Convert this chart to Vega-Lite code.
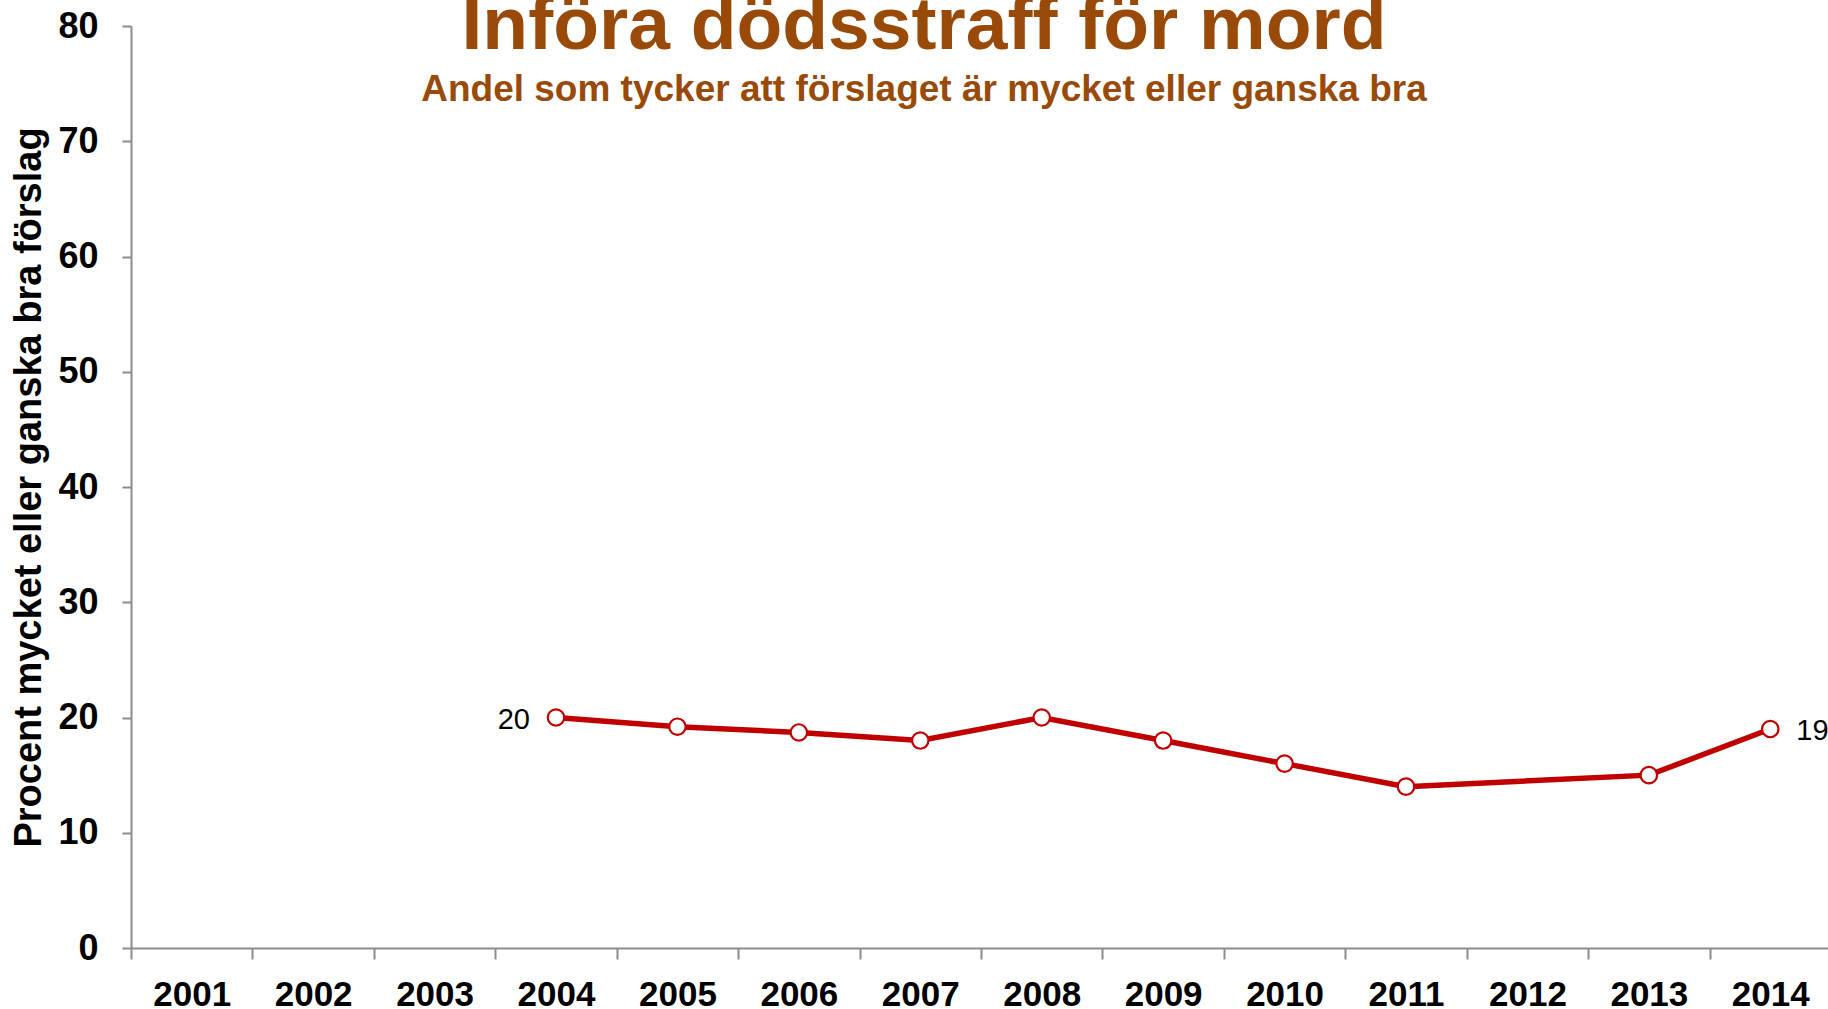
{
  "$schema": "https://vega.github.io/schema/vega-lite/v6.json",
  "width": 1700,
  "height": 922,
  "autosize": "none",
  "padding": {"left": 131, "top": 26, "right": 0, "bottom": 61},
  "background": "white",
  "view": {"stroke": null},
  "title": {
    "text": "Införa dödsstraff för mord",
    "subtitle": "Andel som tycker att förslaget är mycket eller ganska bra",
    "anchor": "middle",
    "orient": "top",
    "offset": 0,
    "dx": -57,
    "dy": 101,
    "font": "Liberation Sans",
    "fontWeight": "bold",
    "fontSize": 75,
    "color": "#9A4A08",
    "subtitleFont": "Liberation Sans",
    "subtitleFontWeight": "bold",
    "subtitleFontSize": 37,
    "subtitleColor": "#9A4A08",
    "subtitlePadding": 7
  },
  "data": {
    "values": [
      {"year": "2004", "value": 20, "label": "20"},
      {"year": "2005", "value": 19.2},
      {"year": "2006", "value": 18.7},
      {"year": "2007", "value": 18},
      {"year": "2008", "value": 20},
      {"year": "2009", "value": 18},
      {"year": "2010", "value": 16},
      {"year": "2011", "value": 14},
      {"year": "2013", "value": 15},
      {"year": "2014", "value": 19, "label": "19"}
    ]
  },
  "encoding": {
    "x": {
      "field": "year",
      "type": "ordinal",
      "bandPosition": 0.5,
      "scale": {
        "type": "band",
        "domain": ["2001","2002","2003","2004","2005","2006","2007","2008","2009","2010","2011","2012","2013","2014"],
        "paddingInner": 0,
        "paddingOuter": 0
      },
      "axis": {
        "title": null,
        "labelAngle": 0,
        "tickBand": "extent",
        "domainColor": "#8C8C8C",
        "domainWidth": 2,
        "tickColor": "#8C8C8C",
        "tickWidth": 2,
        "tickSize": 11,
        "labelFont": "Liberation Sans",
        "labelFontWeight": "bold",
        "labelFontSize": 35,
        "labelColor": "black",
        "labelPadding": 18,
        "labelBaseline": "top"
      }
    },
    "y": {
      "field": "value",
      "type": "quantitative",
      "scale": {"domain": [0, 80], "nice": false, "zero": true},
      "axis": {
        "title": "Procent mycket eller ganska bra förslag",
        "titleFont": "Liberation Sans",
        "titleFontWeight": "bold",
        "titleFontSize": 38,
        "titleColor": "black",
        "titlePadding": 9,
        "values": [0,10,20,30,40,50,60,70,80],
        "grid": false,
        "domainColor": "#8C8C8C",
        "domainWidth": 2,
        "tickColor": "#8C8C8C",
        "tickWidth": 2,
        "tickSize": 9,
        "labelFont": "Liberation Sans",
        "labelFontWeight": "bold",
        "labelFontSize": 36,
        "labelColor": "black",
        "labelPadding": 24
      }
    }
  },
  "layer": [
    {
      "mark": {"type": "line", "color": "#C00000", "strokeWidth": 5.5}
    },
    {
      "mark": {"type": "point", "filled": true, "fill": "white", "stroke": "#C00000", "strokeWidth": 2.2, "size": 270, "opacity": 1}
    },
    {
      "transform": [{"filter": "datum.year == '2004'"}],
      "mark": {"type": "text", "align": "right", "baseline": "middle", "dx": -26, "dy": 2, "font": "Liberation Sans", "fontSize": 29, "color": "black"},
      "encoding": {"text": {"field": "label"}}
    },
    {
      "transform": [{"filter": "datum.year == '2014'"}],
      "mark": {"type": "text", "align": "left", "baseline": "middle", "dx": 26, "dy": 2, "font": "Liberation Sans", "fontSize": 29, "color": "black"},
      "encoding": {"text": {"field": "label"}}
    }
  ]
}
